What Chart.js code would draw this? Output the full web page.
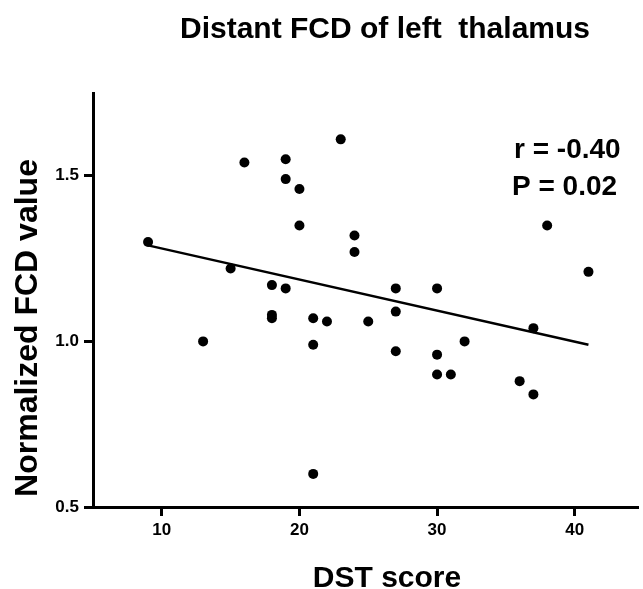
<!DOCTYPE html>
<html>
<head>
<meta charset="utf-8">
<script src="https://cdn.jsdelivr.net/npm/chart.js@4"></script>
<style>
  html, body { margin: 0; padding: 0; background: #fff; }
  #wrap { width: 643px; height: 589px; }
</style>
</head>
<body>
<div id="wrap"><canvas id="chart" width="643" height="589"></canvas></div>
<script>
// DST score (x) and normalized FCD value (y) for each subject
const dstScores = [9, 13, 15, 16, 18, 18, 18, 19, 19, 19, 20, 20, 21, 21, 21, 22, 23,
                   24, 24, 25, 27, 27, 27, 30, 30, 30, 31, 32, 36, 37, 37, 38, 41];
const fcdValues = [1.30, 1.00, 1.22, 1.54, 1.17, 1.08, 1.07, 1.55, 1.49, 1.16, 1.46, 1.35, 1.07, 0.99, 0.60, 1.06, 1.61,
                   1.32, 1.27, 1.06, 1.16, 1.09, 0.97, 1.16, 0.96, 0.90, 0.90, 1.00, 0.88, 1.04, 0.84, 1.35, 1.21];
// fitted regression line, end points
const fitX = [9, 41];
const fitY = [1.29, 0.99];
const xTicks = [10, 20, 30, 40];
const yTicks = [0.5, 1.0, 1.5];
const titleText = 'Distant FCD of left  thalamus';
const xTitle = 'DST score';
const yTitle = 'Normalized FCD value';
const statLines = ['r = -0.40', 'P = 0.02'];

const FONT = '"Liberation Sans", Arial, sans-serif';

// titles and stats drawn by hand so they sit where the figure has them
const textPlugin = {
    id: 'figureText',
    afterDraw(chart) {
        const ctx = chart.ctx;
        ctx.save();
        ctx.fillStyle = '#000';
        ctx.font = 'bold 30px ' + FONT;
        ctx.textAlign = 'center';
        ctx.textBaseline = 'alphabetic';
        ctx.fillText(titleText, 385, 38);
        ctx.fillText(xTitle, 387, 587);

        ctx.save();
        ctx.translate(37, 328);
        ctx.rotate(-Math.PI / 2);
        ctx.font = 'bold 32px ' + FONT;
        ctx.fillText(yTitle, 0, 0);
        ctx.restore();

        ctx.font = 'bold 28px ' + FONT;
        ctx.textAlign = 'left';
        ctx.fillText(statLines[0], 514, 158);
        ctx.fillText(statLines[1], 512, 195);
        ctx.restore();
    }
};

const tickFont = { family: FONT, size: 17, weight: 'bold' };

new Chart(document.getElementById('chart'), {
    type: 'scatter',
    data: {
        datasets: [
            {
                label: 'subjects',
                data: dstScores.map((x, i) => ({ x: x, y: fcdValues[i] })),
                backgroundColor: '#000',
                borderWidth: 0,
                pointRadius: 5,
                order: 1
            },
            {
                type: 'line',
                label: 'fit',
                data: fitX.map((x, i) => ({ x: x, y: fitY[i] })),
                borderColor: '#000',
                borderWidth: 2.5,
                pointRadius: 0,
                fill: false,
                order: 2
            }
        ]
    },
    options: {
        responsive: false,
        animation: false,
        layout: { padding: { top: 93, right: 0, left: 0, bottom: 0 } },
        plugins: {
            legend: { display: false },
            tooltip: { enabled: false },
            title: { display: false }
        },
        scales: {
            x: {
                type: 'linear',
                min: 5,
                max: 44.6,
                afterBuildTicks: (scale) => { scale.ticks = xTicks.map(v => ({ value: v })); },
                afterFit: (scale) => { scale.height = 82; },
                border: { display: true, color: '#000', width: 3 },
                grid: { drawOnChartArea: false, drawTicks: true, tickLength: 9, tickWidth: 3, tickColor: '#000' },
                ticks: { color: '#000', font: tickFont, padding: 4, maxRotation: 0 }
            },
            y: {
                type: 'linear',
                min: 0.5,
                max: 1.75,
                afterBuildTicks: (scale) => { scale.ticks = yTicks.map(v => ({ value: v })); },
                afterFit: (scale) => { scale.width = 93; },
                border: { display: true, color: '#000', width: 3 },
                grid: { drawOnChartArea: false, drawTicks: true, tickLength: 9, tickWidth: 3, tickColor: '#000' },
                ticks: {
                    color: '#000', font: tickFont, padding: 5,
                    callback: (v) => v.toFixed(1)
                }
            }
        }
    },
    plugins: [textPlugin]
});
</script>
</body>
</html>
